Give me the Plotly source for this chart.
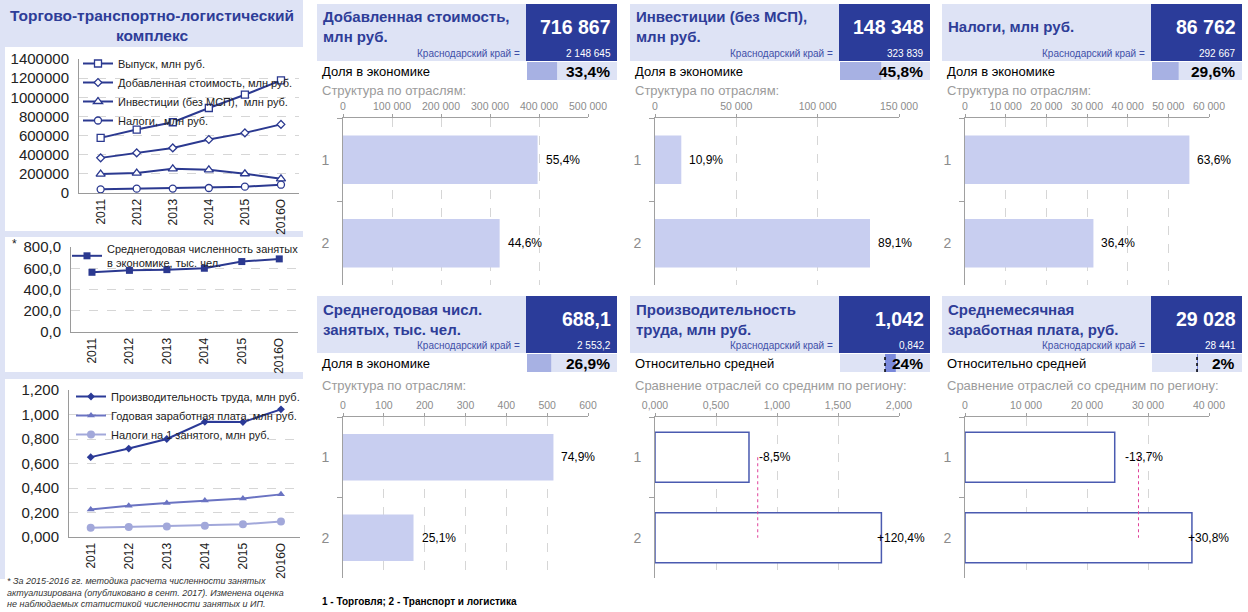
import plotly.graph_objects as go

W, H = 1248, 612
FONT = "Arial, 'Liberation Sans', sans-serif"

# ---------------- data ----------------
years = ["2011", "2012", "2013", "2014", "2015", "2016О"]
output_vals = [576000, 663000, 739000, 888000, 1027000, 1176000]
va_vals = [367000, 419000, 471000, 559000, 628000, 716867]
inv_vals = [198000, 208000, 253000, 242000, 201000, 148348]
tax_vals = [38000, 45000, 46000, 52000, 66000, 86762]
emp_vals = [562, 580, 587, 600, 663, 688.1]
prod_vals = [0.652, 0.722, 0.800, 0.940, 0.938, 1.042]
wage_vals = [0.225, 0.256, 0.278, 0.298, 0.315, 0.348]
taxper_vals = [0.075, 0.082, 0.085, 0.092, 0.105, 0.126]

panel_titles = ["Добавленная стоимость,<br>млн руб.", "Инвестиции (без МСП),<br>млн руб.",
                "Налоги, млн руб.", "Среднегодовая числ.<br>занятых, тыс. чел.",
                "Производительность<br>труда, млн руб.", "Среднемесячная<br>заработная плата, руб."]
panel_values = [716867, 148348, 86762, 688.1, 1.042, 29028]
region_values = [2148645, 323839, 292667, 2553.2, 0.842, 28441]
value_decimals = [0, 0, 0, 1, 3, 0]
share_labels = ["Доля в экономике"] * 4 + ["Относительно средней"] * 2
shares = [33.4, 45.8, 29.6, 26.9]
sub_titles = ["Структура по отраслям:"] * 4 + ["Сравнение отраслей со средним по региону:"] * 2
industries = ["1", "2"]
structure_pct = [[55.4, 44.6], [10.9, 89.1], [63.6, 36.4], [74.9, 25.1]]
deviation_pct = [[-8.5, 120.4], [-13.7, 30.8]]
legend_note = "1 - Торговля; 2 - Транспорт и логистика"
footnote = ("* За 2015-2016 гг. методика расчета численности занятых<br>"
            "актуализирована (опубликовано в сент. 2017). Изменена оценка<br>"
            "не наблюдаемых статистикой численности занятых и ИП.")

# ---------------- style ----------------
BLUE = "#2B3990"
LAV = "#DEE3F5"
DARK = "#2B3C9A"
TITLE_BLUE = "#2E3D98"
BAR_LIGHT = "#C8CEF0"
SHARE_BAR = "#A7B1E3"
REL_BAR = "#7A89DB"
OUTLINE = "#4A5AB0"
PINK = "#E0409A"
GRAY_TXT = "#8C8C8C"
GRID = "#D6D6D6"


def px(x):
    return x / W


def py(y):
    return 1 - y / H


def fmt_num(v, dec):
    return f"{v:,.{dec}f}".replace(",", " ").replace(".", ",")


def fmt_pct(v, dec=1, sign=False):
    s = f"{v:+.{dec}f}" if sign else f"{v:.{dec}f}"
    return s.replace(".", ",") + "%"


fig = go.Figure()
layout = {}
shapes = []
annotations = []
counter = [0]


def add_axes(x0, x1, y0, y1, xopts, yopts):
    counter[0] += 1
    n = counter[0]
    sfx = "" if n == 1 else str(n)
    layout["xaxis" + sfx] = dict(domain=[px(x0), px(x1)], anchor="y" + sfx, fixedrange=True,
                                 automargin=False, **xopts)
    layout["yaxis" + sfx] = dict(domain=[py(y1), py(y0)], anchor="x" + sfx, fixedrange=True,
                                 automargin=False, **yopts)
    return "x" + sfx, "y" + sfx


def rect(x0, y0, x1, y1, color):
    shapes.append(dict(type="rect", xref="paper", yref="paper", x0=px(x0), x1=px(x1),
                       y0=py(y1), y1=py(y0), fillcolor=color, line=dict(width=0), layer="below"))


def text(x, y, s, size, color="#000", bold=False, xanchor="left", italic=False, align="left"):
    if bold:
        s = "<b>" + s + "</b>"
    if italic:
        s = "<i>" + s + "</i>"
    annotations.append(dict(x=px(x), y=py(y), xref="paper", yref="paper", text=s, showarrow=False,
                            xanchor=xanchor, yanchor="middle", align=align,
                            font=dict(size=size, color=color, family=FONT)))


# ---------------- left panel ----------------
rect(0, 0, 303, 579, LAV)
rect(5, 47, 303, 231, "white")
rect(5, 237, 303, 372, "white")
rect(5, 379, 303, 579, "white")
text(152, 26, "Торгово-транспортно-логистический<br>комплекс", 15.5, TITLE_BLUE, bold=True,
     xanchor="center", align="center")

left_x = dict(type="category", categoryorder="array", categoryarray=years, tickangle=-90,
              tickfont=dict(size=12, color="#222"), showline=True, linecolor="#9A9A9A",
              showgrid=False, zeroline=False, ticks="")


def left_y(rng, dtick, tf):
    return dict(range=rng, dtick=dtick, tickformat=tf, showgrid=True, gridcolor=GRID, griddash="dash",
                showline=True, linecolor="#9A9A9A", zeroline=False, ticks="", ticklabelstandoff=6,
                tickfont=dict(size=15, color="#222"))


xr, yr = add_axes(79, 299, 59, 193, {**left_x, "range": [-0.6, 5.5]}, left_y([0, 1400000], 200000, "d"))
series1 = [("Выпуск, млн руб.", output_vals, "square", 7),
           ("Добавленная стоимость, млн руб.", va_vals, "diamond", 6),
           ("Инвестиции (без МСП),  млн руб.", inv_vals, "triangle-up", 8),
           ("Налоги,  млн руб.", tax_vals, "circle", 7)]
for name, vals, sym, sz in series1:
    fig.add_trace(go.Scatter(x=years, y=vals, name=name, mode="lines+markers", xaxis=xr, yaxis=yr,
                             line=dict(color=BLUE, width=2),
                             marker=dict(symbol=sym, size=sz, color="white", line=dict(color=BLUE, width=1.3)),
                             legend="legend", hoverinfo="skip"))

xr, yr = add_axes(71, 298, 247, 332, {**left_x, "range": [-0.56, 5.5]}, left_y([0, 800], 200, ".1f"))
fig.add_trace(go.Scatter(x=years, y=emp_vals, name="Среднегодовая численность занятых<br>в экономике, тыс. чел.",
                         mode="lines+markers", xaxis=xr, yaxis=yr, line=dict(color=BLUE, width=2),
                         marker=dict(symbol="square", size=7, color=BLUE), legend="legend2", hoverinfo="skip"))
text(10, 244, "*", 12, "#222")

xr, yr = add_axes(69, 300, 390, 537, {**left_x, "range": [-0.57, 5.5]}, left_y([0, 1.2], 0.2, ".3f"))
series3 = [("Производительность труда, млн руб.", prod_vals, "diamond", 6, "#2B3A97"),
           ("Годовая заработная плата, млн руб.", wage_vals, "triangle-up", 7, "#6A73C2"),
           ("Налоги на 1 занятого, млн руб.", taxper_vals, "circle", 8, "#A2A8DA")]
for name, vals, sym, sz, col in series3:
    fig.add_trace(go.Scatter(x=years, y=vals, name=name, mode="lines+markers", xaxis=xr, yaxis=yr,
                             line=dict(color=col, width=2), marker=dict(symbol=sym, size=sz, color=col),
                             legend="legend3", hoverinfo="skip"))

annotations.append(dict(x=px(5), y=py(611), xref="paper", yref="paper", text="<i>" + footnote + "</i>",
                        showarrow=False, xanchor="left", yanchor="bottom", align="left",
                        font=dict(size=9, color="#333", family=FONT)))

# ---------------- right panels ----------------
col_left = [317, 630, 942]
row_top = [4, 296]
plot_x = [(343, 588), (655, 899), (965, 1209)]
plot_y = [(118, 285), (417, 578)]
x_ranges = [[0, 500000], [0, 150000], [0, 60000], [0, 600], [0, 2.0], [0, 40000]]
x_dticks = [100000, 50000, 10000, 100, 0.5, 10000]
x_formats = [",d", ",d", ",d", ",d", ".3f", ",d"]

for i in range(6):
    row, col = divmod(i, 3)
    L, top = col_left[col], row_top[row]
    # header boxes
    rect(L, top, L + 209, top + 57, LAV)
    rect(L + 209, top, L + 300, top + 57, DARK)
    text(L + 4, top + 23, panel_titles[i], 15, TITLE_BLUE, bold=True)
    text(L + 296, top + 23, fmt_num(panel_values[i], value_decimals[i]), 19.5, "white", bold=True, xanchor="right")
    text(L + 205, top + 49, "Краснодарский край =", 10, "#3F4FA8", xanchor="right")
    text(L + 296, top + 49, fmt_num(region_values[i], value_decimals[i]), 10, "white", xanchor="right")
    text(L + 3, top + 67, share_labels[i], 13, "#000")
    text(L + 3, top + (86 if row == 0 else 89), sub_titles[i], 13, "#9B9B9B")

    # share / relative mini bar
    sx0, sx1, sy0, sy1 = L + 210, L + 300, top + 58, top + 76
    rect(sx0, sy0, sx1, sy1, LAV)
    if i < 4:
        mx, my = add_axes(sx0, sx1, sy0, sy1, dict(range=[0, 1], visible=False),
                          dict(range=[-0.5, 0.5], visible=False))
        fig.add_trace(go.Bar(x=[shares[i] / 100], y=[0], orientation="h", width=1, xaxis=mx, yaxis=my,
                             marker=dict(color=SHARE_BAR, line=dict(width=0)), showlegend=False, hoverinfo="skip"))
        share_txt = fmt_pct(shares[i])
    else:
        rel = round((panel_values[i] / region_values[i] - 1) * 100)
        mx, my = add_axes(sx0, sx1, sy0, sy1, dict(range=[-1, 1], visible=False),
                          dict(range=[-0.5, 0.5], visible=False))
        fig.add_trace(go.Bar(x=[rel / 100], y=[0], orientation="h", width=1, xaxis=mx, yaxis=my,
                             marker=dict(color=REL_BAR, line=dict(width=0)), showlegend=False, hoverinfo="skip"))
        shapes.append(dict(type="line", xref=mx, yref="paper", x0=0, x1=0, y0=py(sy1), y1=py(sy0),
                           line=dict(color="black", width=1.5, dash="dot")))
        share_txt = fmt_pct(rel, 0)
    text(L + 295, top + 67, share_txt, 15.5, "#000", bold=True, xanchor="right")

    # structure / comparison chart
    (x0, x1), (y0, y1) = plot_x[col], plot_y[row]
    xopts = dict(side="top", range=x_ranges[i], dtick=x_dticks[i], tickformat=x_formats[i],
                 showgrid=True, gridcolor=GRID, griddash="dash", showline=True, linecolor="#A0A0A0",
                 ticks="outside", ticklen=3, tickcolor="#A0A0A0", zeroline=False,
                 tickfont=dict(size=10.5, color=GRAY_TXT))
    yopts = dict(type="category", categoryorder="array", categoryarray=industries, range=[1.5, -0.5],
                 showline=True, linecolor="#A0A0A0", ticks="outside", tickson="boundaries", ticklen=5,
                 tickcolor="#A0A0A0", showgrid=False, zeroline=False, ticklabelstandoff=10,
                 tickfont=dict(size=14, color=GRAY_TXT))
    xr, yr = add_axes(x0, x1, y0, y1, xopts, yopts)
    if i < 4:
        vals = [panel_values[i] * p / 100 for p in structure_pct[i]]
        fig.add_trace(go.Bar(x=vals, y=industries, orientation="h", width=0.58, xaxis=xr, yaxis=yr,
                             marker=dict(color=BAR_LIGHT, line=dict(width=0)), showlegend=False, hoverinfo="skip"))
        for k, (v, p) in enumerate(zip(vals, structure_pct[i])):
            annotations.append(dict(x=v, y=k, xref=xr, yref=yr, text=fmt_pct(p), showarrow=False,
                                    xanchor="left", yanchor="middle", xshift=6,
                                    font=dict(size=12, color="#000", family=FONT)))
    else:
        avg = region_values[i]
        devs = deviation_pct[i - 4]
        vals = [avg * (1 + d / 100) for d in devs]
        fig.add_trace(go.Bar(x=vals, y=industries, orientation="h", width=0.62, xaxis=xr, yaxis=yr,
                             marker=dict(color="white", line=dict(color=OUTLINE, width=1.5)),
                             showlegend=False, hoverinfo="skip"))
        fig.add_trace(go.Scatter(x=[avg, avg], y=industries, mode="lines", xaxis=xr, yaxis=yr,
                                 line=dict(color=PINK, width=1, dash="dot"), showlegend=False, hoverinfo="skip"))
        for k, (v, d) in enumerate(zip(vals, devs)):
            annotations.append(dict(x=v, y=k, xref=xr, yref=yr, text=fmt_pct(d, 1, sign=True), showarrow=False,
                                    xanchor="left", yanchor="middle", xshift=8 if k == 0 else -6,
                                    font=dict(size=12, color="#000", family=FONT)))

text(320, 601, legend_note, 10, "#000", bold=True)

legend_common = dict(bgcolor="rgba(0,0,0,0)", itemwidth=30, tracegroupgap=0,
                     font=dict(size=11, color="#222", family=FONT), xanchor="left", yanchor="top")

fig.update_layout(
    width=W, height=H, margin=dict(l=0, r=0, t=0, b=0, autoexpand=False),
    paper_bgcolor="white", plot_bgcolor="rgba(0,0,0,0)",
    font=dict(family=FONT), separators=", ", hovermode=False,
    showlegend=True,
    legend=dict(x=px(78), y=py(49), **legend_common),
    legend2=dict(x=px(67), y=py(235), **legend_common),
    legend3=dict(x=px(71), y=py(382), **legend_common),
    shapes=shapes, annotations=annotations,
    **layout,
)

fig.write_html("out.html", config={"displayModeBar": False},
               post_script="document.body.style.margin='0px';")
